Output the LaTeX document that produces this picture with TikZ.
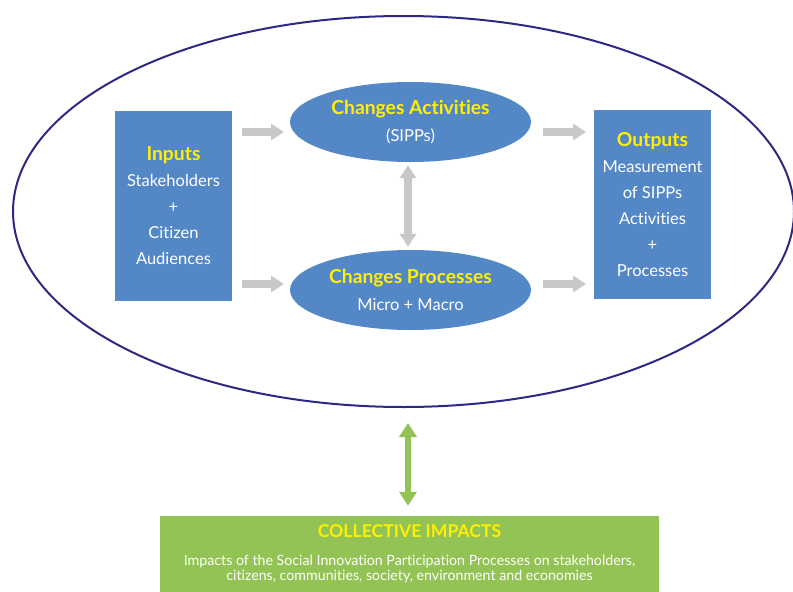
\documentclass[tikz,border=0pt]{standalone}
\usepackage{fontspec}
\setmainfont{Lato}[Ligatures=NoCommon]
\usepackage{xcolor}
\usepackage{tikz}
\usetikzlibrary{arrows.meta}
\usetikzlibrary{positioning,shapes.geometric}
\definecolor{BoxBlue}{RGB}{83,135,198}
\definecolor{ImpGreen}{RGB}{147,195,84}
\definecolor{TitleYellow}{RGB}{255,240,0}
\definecolor{ArrGray}{RGB}{200,200,200}
\definecolor{FrameBlue}{RGB}{45,40,132}

\begin{document}
\begin{tikzpicture}[
		x=1pt,y=-1pt,
		MyBoxes/.style={fill=BoxBlue,draw=none,minimum width=117pt,inner sep=0pt,align=center,text=white,font=\fontsize{16.5}{26}\selectfont},
		MyEllipses/.style={ellipse,fill=BoxBlue,draw=none,minimum width=241pt,minimum height=80pt,inner sep=0pt,align=center,text=white,font=\fontsize{16.5}{27.5}\selectfont},
		GrayArrows/.style={draw=ArrGray,line width=8pt,-{Triangle[length=13pt, width=16pt]}},
		GreenArrows/.style={draw=ImpGreen,line width=6pt,{Triangle[length=14pt, width=17pt]}-{Triangle[length=14pt, width=17pt]}},
		Frame/.style={draw=FrameBlue,line width=2pt},
		every node/.style={scale=1}
		]
		\useasboundingbox (0,0) rectangle (793,592);
		
		\draw[Frame] (403.5,211.5) ellipse [x radius=390.5, y radius=195.5];
		
		\node[MyBoxes,minimum height=190pt] (inputs) at (173.5,206) {{\bfseries\color{TitleYellow}\fontsize{19.3}{26}\selectfont Inputs}\\Stakeholders\\+\\Citizen\\Audiences};
		
		\node[MyBoxes,minimum height=189pt] (outputs) at (652.5,204.5) {{\bfseries\color{TitleYellow}\fontsize{19.3}{26}\selectfont Outputs}\\Measurement\\of SIPPs\\Activities\\+\\Processes};
		
		\node[MyEllipses] (activities) at (410.5,122) {{\bfseries\color{TitleYellow}\fontsize{19.3}{27.5}\selectfont Changes Activities}\\(SIPPs)};
		
		\node[MyEllipses] (processes) at (410.5,290) {{\bfseries\color{TitleYellow}\fontsize{19.3}{27.5}\selectfont Changes Processes}\\Micro + Macro};
		
		\node[fill=ImpGreen,minimum width=499pt,minimum height=76pt,inner sep=0pt,align=center,text=white,font=\fontsize{14.2}{15}\selectfont] (impacts) at (409.5,554) {{\bfseries\color{TitleYellow}\fontsize{17.6}{15}\selectfont COLLECTIVE IMPACTS}\\[13pt]Impacts of the Social Innovation Participation Processes on stakeholders,\\citizens, communities, society, environment and economies};
		
		%arrow ends
		\coordinate (InTopA) at (242,132);
		\coordinate (InTopB) at (284,132);
		\coordinate (InBotA) at (242,284);
		\coordinate (InBotB) at (284,284);
		\coordinate (OutTopA) at (543,132);
		\coordinate (OutTopB) at (586,132);
		\coordinate (OutBotA) at (543,284);
		\coordinate (OutBotB) at (586,284);
		\coordinate (ImpTop) at (408,423);
		
		\draw[GrayArrows] (InTopA)--(InTopB);
		\draw[GrayArrows] (InBotA)--(InBotB);
		\draw[GrayArrows] (OutTopA)--(OutTopB);
		\draw[GrayArrows] (OutBotA)--(OutBotB);
		
		\draw[GrayArrows,{Triangle[length=13pt, width=16pt]}-{Triangle[length=13pt, width=16pt]},shorten <=3pt,shorten >=3pt] ([xshift=-2.5pt]activities.south)--([xshift=-2.5pt]processes.north);
		
		\draw[GreenArrows,shorten >=10pt] (ImpTop)--(ImpTop |- impacts.north);
		
		\end{tikzpicture}
\end{document}
